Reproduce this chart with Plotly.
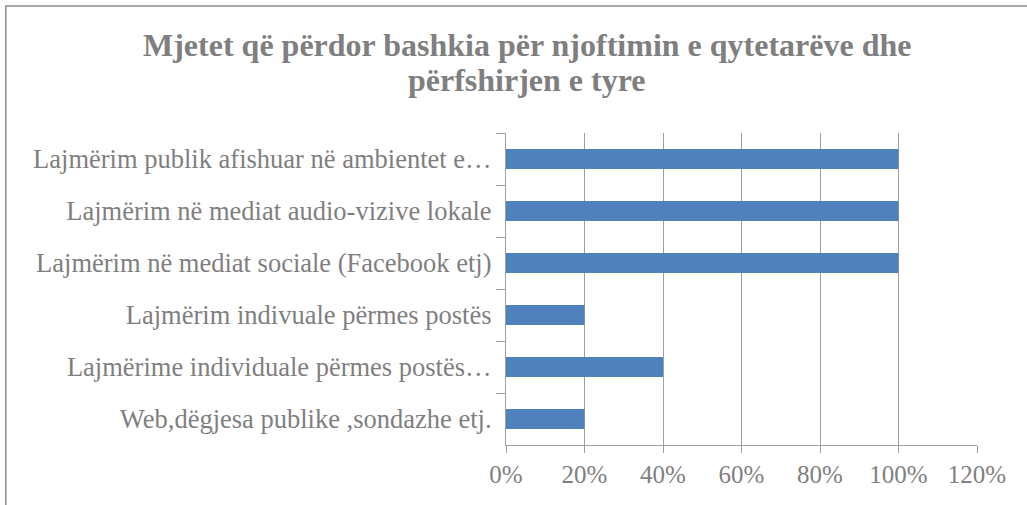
import plotly.graph_objects as go

title_lines = [
    "Mjetet që përdor bashkia për njoftimin e qytetarëve dhe",
    "përfshirjen e tyre",
]
categories = [
    "Lajmërim publik afishuar në ambientet e…",
    "Lajmërim në mediat audio-vizive lokale",
    "Lajmërim në mediat sociale (Facebook etj)",
    "Lajmërim indivuale përmes postës",
    "Lajmërime individuale përmes postës…",
    "Web,dëgjesa publike ,sondazhe etj.",
]
values = [1.0, 1.0, 1.0, 0.2, 0.4, 0.2]
x_ticks = [0, 0.2, 0.4, 0.6, 0.8, 1.0, 1.2]

grey = "#7f7f7f"
axis_grey = "#a0a0a0"

fig = go.Figure(
    go.Bar(
        x=values,
        y=categories,
        orientation="h",
        marker=dict(color="#4f81bd", line=dict(width=0)),
        width=0.38,
        hoverinfo="x+y",
    )
)

fig.update_layout(
    width=1027,
    height=505,
    paper_bgcolor="white",
    plot_bgcolor="white",
    margin=dict(l=506, r=50, t=133, b=60, autoexpand=False),
    showlegend=False,
    font=dict(family="Liberation Serif", color=grey),
)

# two title lines placed separately to keep the tighter line spacing
for text, ypos in zip(title_lines, [1.282, 1.170]):
    fig.add_annotation(
        text=f"<b>{text}</b>",
        xref="paper", yref="paper",
        x=0.0446, y=ypos,
        xanchor="center", yanchor="middle",
        showarrow=False,
        font=dict(family="Liberation Serif", size=32, color=grey),
    )

fig.update_xaxes(
    range=[0, 1.2],
    tickvals=x_ticks,
    tickformat=".0%",
    showgrid=True,
    gridcolor=axis_grey,
    gridwidth=1.3,
    showline=True,
    linecolor=axis_grey,
    linewidth=1.3,
    ticks="outside",
    ticklen=7,
    tickcolor=axis_grey,
    tickfont=dict(size=25, color=grey),
    zeroline=False,
    automargin=False,
)

fig.update_yaxes(
    autorange="reversed",
    showline=True,
    linecolor=axis_grey,
    linewidth=1.3,
    ticks="outside",
    tickson="boundaries",
    ticklen=9,
    tickcolor=axis_grey,
    tickfont=dict(size=26.5, color=grey),
    ticklabelstandoff=8,
    showgrid=False,
    automargin=False,
)

# chart border (right and bottom edges fall outside the picture)
fig.add_shape(
    type="rect", xref="paper", yref="paper",
    x0=-1.062, x1=1.2, y0=-0.3, y1=1.407,
    line=dict(color="#8c8c8c", width=1.5),
    layer="below",
)

fig.write_html(
    "out.html",
    config={"displayModeBar": False},
    post_script="document.body.style.margin='0';",
)
